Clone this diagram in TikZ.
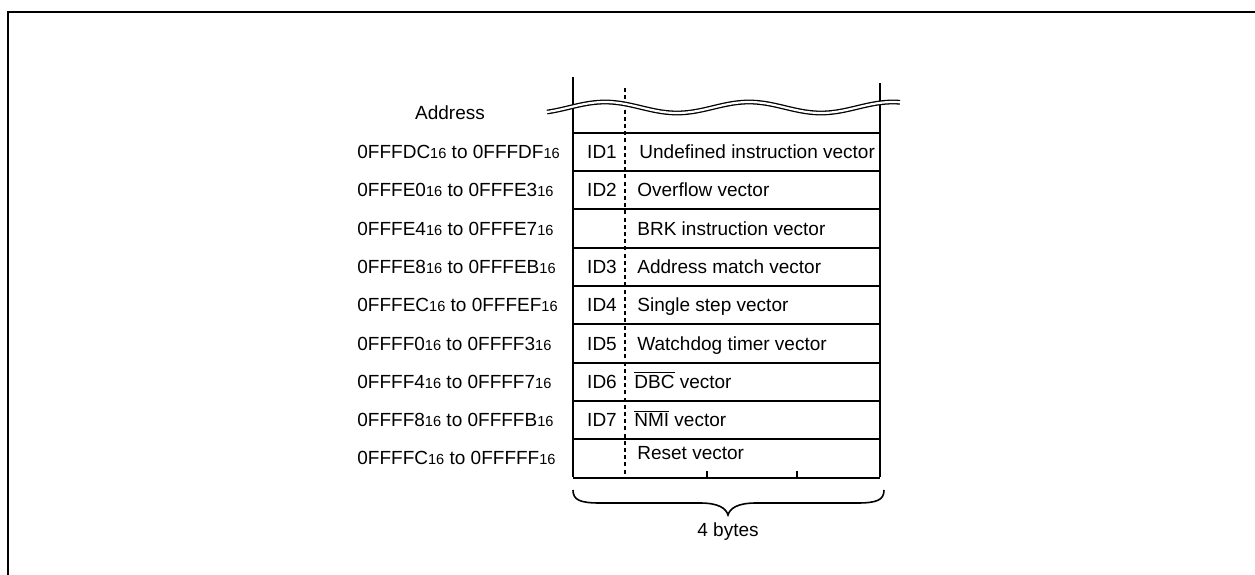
\documentclass[tikz,border=0pt]{standalone}
\usepackage{fontspec}
\setmainfont{Liberation Sans}
\newcommand{\hexsub}{{\fontsize{7.3}{8.5}\selectfont 16}}
\newcommand{\addrrange}[2]{#1\hexsub{} to #2\hexsub}
\newcommand{\ovl}[1]{$\overline{\mbox{#1}}$}
\begin{document}
\begin{tikzpicture}[x=0.5pt,y=-0.5pt,
  txt/.style={font=\fontsize{9.5}{11.5}\selectfont, inner sep=0pt, text height=6.8pt, text depth=0pt},
  addr/.style={txt, anchor=west},
  idlab/.style={txt, anchor=center},
  vec/.style={txt, anchor=west},
  rowline/.style={line width=0.9pt},
  sideline/.style={line width=1.3pt},
  frameline/.style={line width=1pt}]
\useasboundingbox (0,0) rectangle (1255,574);
% frame
\draw[frameline] (8,580) -- (8,12) -- (1262,12);
% coordinates
\coordinate (tl) at (573,77);
\coordinate (tr) at (880,83);
\coordinate (bl) at (573,478);
\coordinate (br) at (880,478);
\coordinate (dt) at (625,88);
\coordinate (db) at (625,478);
% dashed separator
\draw[line width=0.6pt, dash pattern=on 2pt off 1.6pt] (dt) -- (db);
% row lines
\foreach \y in {133,171,209,248,286,324,363,401,439}
  \draw[rowline] (573,\y) -- (880,\y);
\draw[line width=1.3pt] (bl) -- (br);
% ticks
\coordinate (t1) at (707,478);
\coordinate (t2) at (797,478);
\draw[line width=0.6pt] (t1) -- ++(0,-7);
\draw[line width=0.6pt] (t2) -- ++(0,-7);
% sides
\draw[sideline] (tl) -- ([yshift=0.65pt]bl);
\draw[sideline] (tr) -- ([yshift=0.65pt]br);
% wavy break
\draw[line width=2.4pt, line cap=butt] plot[smooth, domain=547:900, samples=90] (\x, {107.5 - 5.5*sin(2.5*(\x-569))});
\draw[white, line width=1.1pt, line cap=butt] plot[smooth, domain=545:902, samples=90] (\x, {107.5 - 5.5*sin(2.5*(\x-569))});
% labels
\node[txt] (address) at (450,113) {Address};
\node[addr] (a1) at (357,152) {\addrrange{0FFFDC}{0FFFDF}};
\node[addr] (a2) at (357,190) {\addrrange{0FFFE0}{0FFFE3}};
\node[addr] (a3) at (357,228.5) {\addrrange{0FFFE4}{0FFFE7}};
\node[addr] (a4) at (357,267) {\addrrange{0FFFE8}{0FFFEB}};
\node[addr] (a5) at (357,305) {\addrrange{0FFFEC}{0FFFEF}};
\node[addr] (a6) at (357,343.5) {\addrrange{0FFFF0}{0FFFF3}};
\node[addr] (a7) at (357,382) {\addrrange{0FFFF4}{0FFFF7}};
\node[addr] (a8) at (357,420) {\addrrange{0FFFF8}{0FFFFB}};
\node[addr] (a9) at (357,458) {\addrrange{0FFFFC}{0FFFFF}};
% ids
\node[idlab] (id1) at (602,152) {ID1};
\node[idlab] (id2) at (602,190) {ID2};
\node[idlab] (id3) at (602,267) {ID3};
\node[idlab] (id4) at (602,305) {ID4};
\node[idlab] (id5) at (602,343.5) {ID5};
\node[idlab] (id6) at (602,382) {ID6};
\node[idlab] (id7) at (602,420) {ID7};
% vectors
\node[vec] (v1) at (639,152) {Undefined instruction vector};
\node[vec] (v2) at (637,190) {Overflow vector};
\node[vec] (v3) at (637,228.5) {BRK instruction vector};
\node[vec] (v4) at (637,267) {Address match vector};
\node[vec] (v5) at (637,305) {Single step vector};
\node[vec] (v6) at (637,343.5) {Watchdog timer vector};
\node[vec] (v7) at (634,382) {\ovl{DBC} vector};
\node[vec] (v8) at (634,420) {\ovl{NMI} vector};
\node[vec] (v9) at (637,453) {Reset vector};
% brace
\coordinate (bra) at (573,490);
\coordinate (brb) at (884,490);
\coordinate (tip) at (728,515);
\draw[line width=0.8pt] (bra) .. controls (573,500) and (580,503) .. (600,503)
  -- (700,503) .. controls (718,503) and (726,508) .. (tip)
  .. controls (730,508) and (738,503) .. (756,503)
  -- (857,503) .. controls (877,503) and (884,500) .. (brb);
\node[txt] (bytes) at (728,530) {4 bytes};
\end{tikzpicture}
\end{document}
